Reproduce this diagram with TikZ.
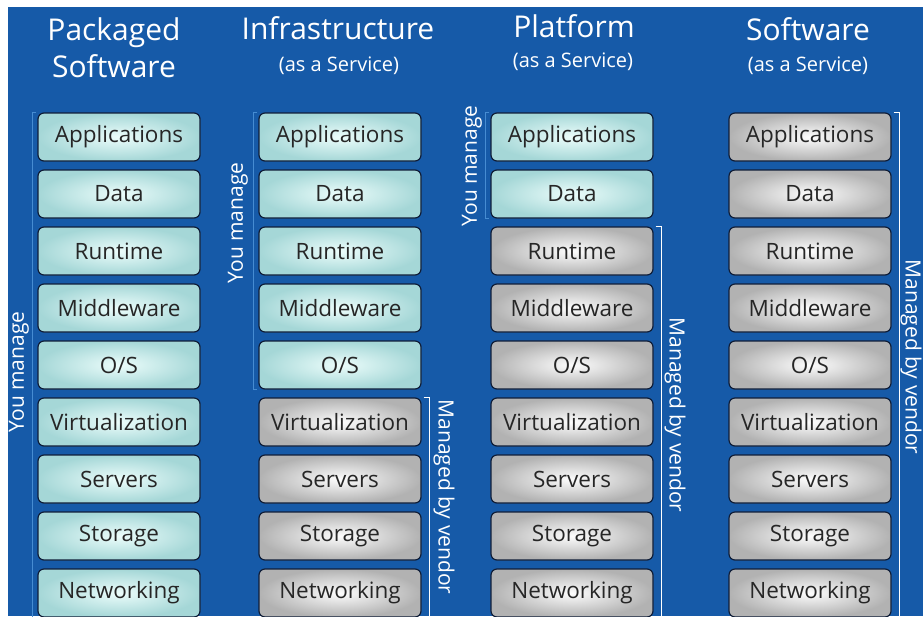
\documentclass[tikz,border=0pt]{standalone}
\usepackage{fontspec}
\setmainfont{Open Sans}
\definecolor{bgblue}{RGB}{22,90,168}
\definecolor{tealin}{RGB}{236,253,251}
\definecolor{tealout}{RGB}{165,215,215}
\definecolor{greyin}{RGB}{253,253,253}
\definecolor{greyout}{RGB}{178,178,178}
\definecolor{edgeblue}{RGB}{16,30,56}
\definecolor{bracketblue}{RGB}{70,140,210}
\tikzset{
    layer/.style={rounded corners=6pt, minimum width=162pt, minimum height=48pt, inner sep=0pt,
        draw=edgeblue, line width=1.2pt, text=black!85, font=\fontsize{22.5}{22.5}\selectfont},
    mine/.style={layer, inner color=tealin, outer color=tealout},
    vendor/.style={layer, inner color=greyin, outer color=greyout},
    title/.style={text=white, anchor=base, font=\fontsize{30}{30}\selectfont},
    subtitle/.style={text=white, anchor=base, font=\fontsize{20}{20}\selectfont},
    side/.style={text=white, font=\fontsize{21}{21}\selectfont},
    youbr/.style={draw=bracketblue, line width=1.2pt},
    vendbr/.style={draw=white, line width=1.5pt}
}
\begin{document}
\begin{tikzpicture}[x=1pt, y=-1pt]
            \fill[white] (0,0) rectangle (923,616);
            \fill[bgblue] (8,7) rectangle (923,616);
            \useasboundingbox (0,0) rectangle (923,616);

            \foreach \c/\cx/\k in {1/119/9, 2/340/5, 3/572/2, 4/810/0}
            {
                \foreach \r/\s in {1/Applications, 2/Data, 3/Runtime, 4/Middleware, 5/{O/S},
                    6/Virtualization, 7/Servers, 8/Storage, 9/Networking}
                {
                    \ifnum\r>\k \def\kind{vendor}\else \def\kind{mine}\fi
                    \node[\kind] (c\c-\r) at (\cx, 137+\r*57-57) {\s};
                }
            }

            \node[title] (pkg1) at (114,40) {Packaged};
            \node[title] (pkg2) at (114,77) {Software};
            \node[title] (iaas1) at (338,39) {Infrastructure};
            \node[subtitle] (iaas2) at (339,71) {(as a Service)};
            \node[title] (paas1) at (574,37) {Platform};
            \node[subtitle] (paas2) at (573,67) {(as a Service)};
            \node[title] (saas1) at (808,40) {Software};
            \node[subtitle] (saas2) at (808,71) {(as a Service)};

            \draw[youbr] ([xshift=-1pt]c1-1.north west) -- ++(-4,0) |- ([xshift=-1pt]c1-9.south west);
            \draw[youbr] ([xshift=-1pt]c2-1.north west) -- ++(-4,0) |- ([xshift=-1pt]c2-5.south west);
            \draw[youbr] ([xshift=-1pt]c3-1.north west) -- ++(-4,0) |- ([xshift=-1pt]c3-2.south west);
            \draw[vendbr] ([xshift=2pt]c2-6.north east) -- ++(6,0) |- ([xshift=2pt]c2-9.south east);
            \draw[vendbr] ([xshift=2pt]c3-3.north east) -- ++(6,0) |- ([xshift=2pt]c3-9.south east);
            \draw[vendbr] ([xshift=2pt]c4-1.north east) -- ++(6,0) |- ([xshift=2pt]c4-9.south east);

            \node[side, rotate=90] (you1) at (19,372) {You manage};
            \node[side, rotate=90] (you2) at (238,223) {You manage};
            \node[side, rotate=90] (you3) at (472,166) {You manage};
            \node[side, rotate=-90] (vend2) at (444,497) {Managed by vendor};
            \node[side, rotate=-90] (vend3) at (675,415) {Managed by vendor};
            \node[side, rotate=-90] (vend4) at (911,357) {Managed by vendor};
        \end{tikzpicture}
\end{document}
